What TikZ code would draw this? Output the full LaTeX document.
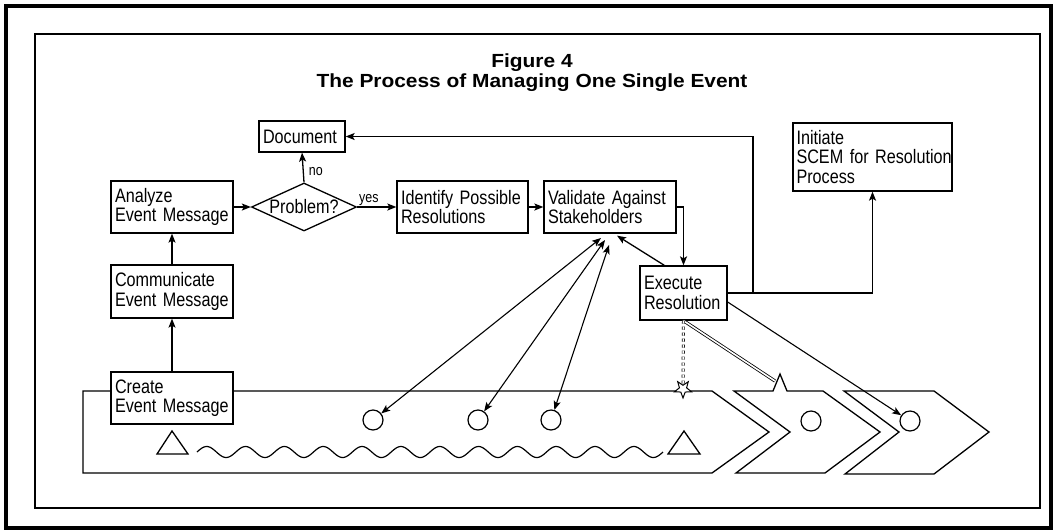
\documentclass[tikz,border=0pt]{standalone}
\usepackage{fontspec}
\setmainfont{Liberation Sans}
\newfontfamily\boxfont{Liberation Sans}[FakeStretch=0.83]
\newfontfamily\ttlfont{Liberation Sans}[FakeStretch=1.1]
\usetikzlibrary{shapes.geometric,arrows.meta,calc}
\begin{document}
\begin{tikzpicture}[x=1pt,y=-1pt,
  ln/.style={line width=1.3pt},
  arr/.style={line width=1.3pt,-{Stealth[length=9pt,width=7pt,inset=2pt]}},
  darr/.style={line width=1.1pt,{Stealth[length=9pt,width=7pt,inset=2pt]}-{Stealth[length=9pt,width=7pt,inset=2pt]}},
  bx/.style={draw,fill=white,line width=1.3pt,inner xsep=4pt,inner ysep=0pt,align=left,
     font=\boxfont\fontsize{19.5}{19.5}\selectfont},
  lbl/.style={font=\boxfont\fontsize{15}{15}\selectfont,inner sep=1pt},
  dot/.style={draw,circle,fill=white,minimum size=20pt,inner sep=0pt,line width=1.2pt},
  chev/.style={line width=1.3pt,line join=miter},
  burst/.style={draw,fill=white,star,star points=5,star point ratio=2.4,
     minimum size=18pt,inner sep=0pt,shape border rotate=180,line width=1pt}]
\useasboundingbox (0,0) rectangle (1057,531);
% frames
\draw[line width=3.5pt] (6,6) rectangle (1051,528);
\draw[line width=1.3pt] (35,34) rectangle (1040,508);
% title
\node[font=\ttlfont\bfseries\fontsize{19}{20}\selectfont,align=center] (title) at (532,73)
  {Figure 4\\The Process of Managing One Single Event};
% chevrons
\draw[chev] (83,391) -- (712,391) -- (769,432) -- (712,473) -- (83,473) -- cycle;
\draw[chev] (734,391) -- (773,391) -- (780,374) -- (787,391) -- (823,391) -- (880,432)
  -- (825,473) -- (736,473) -- (790,432) -- cycle;
\draw[chev] (844,391) -- (934,391) -- (989,432) -- (934,474) -- (845,474) -- (899,432) -- cycle;
% triangles and wave
\draw[chev] (157,454) -- (172,431) -- (188,454) -- cycle;
\draw[chev] (668,454) -- (684,431) -- (700,454) -- cycle;
\draw[line width=1.2pt] plot[domain=0:466,samples=400] ({197+\x},{452-5.5*sin(\x*9.2704)});
% circles
\node[dot] (c1) at (373,420) {};
\node[dot] (c2) at (478,420) {};
\node[dot] (c3) at (551,420) {};
\node[dot] (c5) at (811,421) {};
\node[dot] (c6) at (910,421) {};
% boxes
\node[bx,text width=78pt,minimum height=31pt] (doc) at (302,136.5) {Document};
\node[bx,text width=114pt,minimum height=52pt] (analyze) at (172,207) {Analyze\\Event Message};
\node[bx,text width=114pt,minimum height=53pt] (comm) at (172,291.5) {Communicate\\Event Message};
\node[bx,text width=114pt,minimum height=52pt] (create) at (172,398) {Create\\Event Message};
\node[draw,diamond,fill=white,line width=1.3pt,minimum width=105pt,minimum height=48pt,aspect=2.19,
  inner sep=0pt,font=\boxfont\fontsize{19.5}{19.5}\selectfont] (prob) at (304,207) {Problem?};
\node[bx,text width=123pt,minimum height=52pt] (ident) at (462.5,207) {Identify Possible\\Resolutions};
\node[bx,text width=124pt,minimum height=52pt] (valid) at (610,207) {Validate Against\\Stakeholders};
\node[bx,text width=79pt,minimum height=54pt] (exec) at (683.5,293) {Execute\\Resolution};
\node[bx,text width=152pt,minimum height=68pt,inner xsep=3.5pt] (init) at (872.5,157)
  {Initiate\\\mbox{SCEM for Resolution}\\Process};
% flow arrows
\draw[arr] (create.north) -- (comm.south);
\draw[arr] (comm.north) -- (analyze.south);
\draw[arr] (analyze.east) -- (prob.west);
\draw[arr] (prob.north) -- node[lbl,anchor=west,pos=0.35,xshift=4pt] {no} (doc.south);
\draw[arr] (prob.east) -- node[lbl,anchor=south,pos=0.3] {yes} (ident.west);
\draw[arr] (ident.east) -- (valid.west);
\draw[arr] (valid.east) -| (exec.north);
\draw[arr] ($(exec.north west)+(25,0)$) -- ($(valid.south)+(7,2)$);
\draw[arr] (exec.east) -| (init.south);
\coordinate (br) at (753,293);
\draw[arr] (br) |- (doc.east);
% stakeholder arrows
\coordinate (v1) at (601,238);
\coordinate (v2) at (605,240);
\coordinate (v3) at (609,245);
\draw[darr] (v1) -- (c1);
\draw[darr] (v2) -- (c2);
\draw[darr] (v3) -- (c3);
\coordinate (e1) at ($(exec.east)+(0,9)$);
\draw[line width=1.1pt,-{Stealth[length=9pt,width=7pt,inset=2pt]}] (e1) -- (c6);
% execution links
\coordinate (sp2) at (775,381);
\draw[double,double distance=1.6pt,line width=0.8pt] (exec.south) -- (sp2);
\node[burst] (st1) at (683,389) {};
\draw[double,double distance=1.6pt,line width=0.7pt,dashed] (exec.south) -- (st1);
\end{tikzpicture}
\end{document}
